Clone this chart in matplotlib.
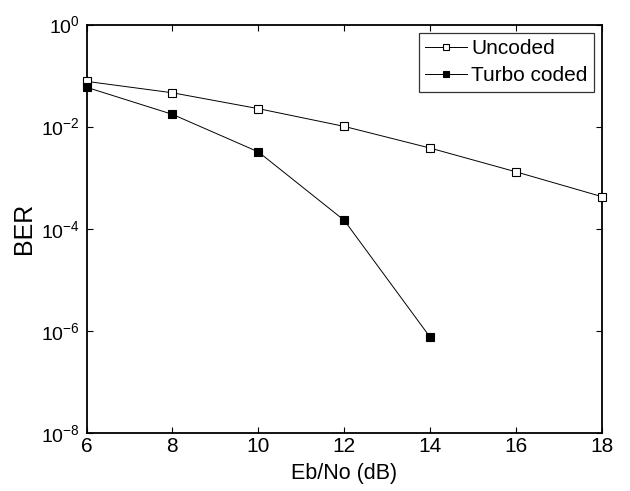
import math
import matplotlib
matplotlib.use("Agg")
import matplotlib.pyplot as plt
from matplotlib.ticker import FixedLocator, FuncFormatter, NullLocator

plt.rcParams['font.family'] = ['Liberation Sans', 'DejaVu Sans']
plt.rcParams['mathtext.fontset'] = 'custom'
plt.rcParams['mathtext.rm'] = 'Liberation Sans'
plt.rcParams['mathtext.default'] = 'regular'

ebno = [6, 8, 10, 12, 14, 16, 18]
uncoded = [0.077, 0.046, 0.0225, 0.0101, 0.0038, 0.0013, 0.000425]
ebno_turbo = [6, 8, 10, 12, 14]
turbo = [0.059, 0.0174, 0.0032, 0.000146, 7.5e-7]
xticks = [6, 8, 10, 12, 14, 16, 18]
yticks = [1e-8, 1e-6, 1e-4, 1e-2, 1e0]

fig = plt.figure(figsize=(6.3, 4.91), dpi=100)
ax = fig.add_axes([86.5/630, 1 - 433/491, (602-86.5)/630, (433-24.5)/491])

ax.plot(ebno, uncoded, '-s', color='black', lw=0.7, markersize=5.5,
        markerfacecolor='white', markeredgecolor='black', markeredgewidth=0.8,
        label='Uncoded', clip_on=False, zorder=3)
ax.plot(ebno_turbo, turbo, '-s', color='black', lw=0.7, markersize=5.5,
        markerfacecolor='black', markeredgecolor='black', markeredgewidth=0.8,
        label='Turbo coded', clip_on=False, zorder=3)

ax.set_yscale('log')
ax.set_xlim(6, 18)
ax.set_ylim(1e-8, 1e0)
ax.xaxis.set_major_locator(FixedLocator(xticks))
ax.yaxis.set_major_locator(FixedLocator(yticks))
ax.yaxis.set_minor_locator(NullLocator())
ax.yaxis.set_major_formatter(FuncFormatter(lambda v, p: r'$10^{%d}$' % round(math.log10(v))))
ax.tick_params(direction='in', top=True, right=True, length=4.5, width=0.8)
ax.tick_params(axis='x', labelsize=15, pad=3)
ax.tick_params(axis='y', labelsize=14, pad=5)
for s in ax.spines.values():
    s.set_linewidth(1.3)

ax.set_xlabel('Eb/No (dB)', fontsize=15.5, labelpad=5)
ax.set_ylabel('BER', fontsize=18, labelpad=3)

leg = ax.legend(loc='upper right', fontsize=15, frameon=True, fancybox=False,
                edgecolor='black', borderpad=0.3, labelspacing=0.4,
                handlelength=2.0, handletextpad=0.2, borderaxespad=0.4,
                markerscale=0.85)
leg.get_frame().set_linewidth(0.9)

fig.savefig('out.png', dpi=100)
